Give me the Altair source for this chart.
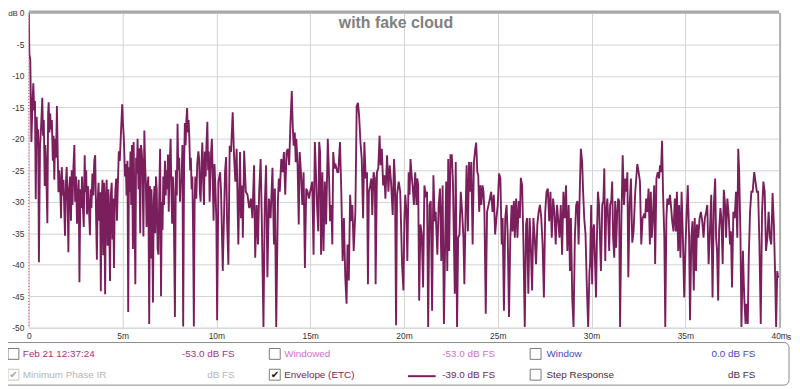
import altair as alt
import pandas as pd

# ---------------- data (time in ms, level in dB) ----------------
t_a = [0.00,0.03,0.08,0.14,0.19,0.24,0.29,0.33,0.37,0.42,0.47,0.50,0.54,0.60,0.65,0.72,0.76,0.80,0.85,0.88,0.92,0.99,
       1.03,1.06,1.10,1.14,1.18,1.23,1.28,1.32,1.36,1.40,1.45,1.50,1.54,1.58,1.62,1.67,1.72,1.76,1.80,1.85,1.89,1.93,1.98,
       2.02,2.07,2.11,2.15,2.20,2.25,2.29,2.33,2.38,2.43,2.47,2.52,2.57,2.62,2.66,2.70,2.75,2.79,2.84,2.88,2.93,2.98,
       3.02,3.06,3.10,3.15,3.20,3.26,3.30,3.34,3.39,3.44,3.49,3.54,3.58,3.63,3.67,3.72,3.76,3.80,3.84,3.88,3.93,3.97,
       4.01,4.07,4.11,4.15,4.20,4.24,4.28,4.33,4.37,4.42,4.46,4.50,4.54,4.58,4.62,4.66,4.70,4.75,4.80,4.85,4.90,4.98,
       5.02,5.06,5.10,5.13,5.17,5.21,5.26,5.30,5.34,5.38,5.42,5.46,5.50,5.55,5.59,5.63,5.68,5.72,5.76,5.80,5.85,5.89,5.94,5.98,
       6.02,6.06,6.11,6.16,6.20,6.24,6.28,6.32,6.37,6.42,6.46,6.50,6.54,6.58,6.62,6.66,6.70,6.74,6.78,6.82,6.87,6.91,6.95,7.00,
       7.05,7.09,7.13,7.17,7.21,7.26,7.30,7.34,7.38,7.42,7.46,7.50,7.56,7.60,7.64,7.68,7.72,7.79,7.84,7.89,7.93,7.97,
       8.02,8.06,8.10,8.14,8.19,8.23,8.28,8.32,8.36,8.40,8.44,8.48,8.52,8.56,8.60,8.64,8.68,8.72,8.76,8.80,8.84,8.88,8.93,8.98,
       9.04,9.08,9.12,9.16,9.21,9.25,9.30,9.34,9.38,9.43,9.47,9.52,9.56,9.60,9.64,9.68,9.72,9.76,9.80,9.85,9.90,9.95,10.00]
db_a = [0.0,-6.5,-7.5,-20.5,-15,-11.2,-15.5,-14,-29.6,-16.5,-21,-18.5,-39.6,-21,-18.5,-13.5,-19.5,-17,-27.5,-21,-23.5,-33.4,
        -16,-14.2,-19,-16,-18.5,-17,-23.5,-19.5,-26.5,-20,-23,-14.8,-22,-28.5,-25,-27,-32.6,-24.5,-29,-26.5,-31,-35.4,-27,
        -24.5,-30,-38,-28,-26,-33,-25,-30.5,-24.5,-21,-30,-26,-33.5,-29,-26.5,-42.8,-28,-31,-26,-30.5,-34,-22.6,
        -28.5,-25,-32,-27.5,-30.5,-35.3,-28,-31,-25.5,-29,-23.5,-22.6,-31,-39.2,-30,-27,-33,-28.5,-44.2,-30,-26.5,-38.5,
        -27,-44.7,-29,-26.5,-37,-28,-32,-42.6,-29,-27,-36,-29.5,-40.5,-31,-28,-26.3,-33,-27,-22,-23.5,-20,-14.5,
        -17.5,-19.5,-23,-26,-24,-29,-23.5,-47.5,-24.5,-28.5,-22,-30.5,-21,-37.5,-20.5,-30,-43.1,-23,-25.5,-20,-28,-21.5,-35,-21,
        -22,-24,-35.5,-18.7,-24,-27,-34,-28,-26,-49.4,-27.5,-39,-28,-34,-46,-30,-27.5,-35,-26,-28,-37.5,-38.4,-30,-21.6,
        -45,-30,-34.5,-26,-30.5,-23.5,-29,-25,-28,-22.5,-31.6,-25,-20,-27.5,-33.5,-26,-28.5,-48.3,-25,-29,-17.6,-25,
        -23,-30,-26.5,-27,-21,-49.8,-24,-17.5,-21,-17,-15.1,-19,-17,-20,-25,-23,-28,-26,-35,-49.8,-30,-26,-29.5,-24,
        -22,-23.2,-28.5,-30,-24,-20.6,-27,-30.5,-22,-26,-21,-17.3,-25,-22,-30,-26,-22,-20,-25,-33,-24,-28,-33]

t_b = [10.04,10.11,10.20,10.25,10.34,10.46,10.52,10.57,10.64,10.71,10.78,10.87,10.94,11.01,11.08,11.17,11.26,11.31,11.38,11.41,
       11.48,11.57,11.66,11.75,11.84,11.92,12.01,12.07,12.15,12.22,12.28,12.36,12.42,12.51,12.58,12.65,12.72,12.80,12.89,12.99,
       13.07,13.12,13.19,13.28,13.33,13.38,13.46,13.53,13.60,13.67,13.74,13.81,13.88,13.95,14.02,14.07,14.12,14.18,14.23,14.26,
       14.33,14.39,14.44,14.51,14.58,14.65,14.72,14.79,14.86,14.93,15.00,15.11,15.18,15.25,15.32,15.35,15.43,15.48,15.53,15.58,
       15.65,15.71,15.78,15.85,15.94,16.01,16.06,16.13,16.18,16.23,16.29,16.36,16.45,16.50,16.59,16.66,16.73,16.80,16.87,16.94,
       16.99,17.06,17.13,17.20,17.25,17.32,17.41,17.48,17.55,17.61,17.68,17.75,17.82,17.89,17.96,18.03,18.08,18.13,18.20,18.26,
       18.31,18.38,18.45,18.49,18.56,18.63,18.70,18.75,18.82,18.89,18.96,19.01,19.10,19.17,19.24,19.31,19.40,19.47,19.52,19.58,
       19.63,19.72,19.80]
db_b = [-48.8,-26.8,-25.3,-28.4,-41.0,-25.3,-22.9,-33.1,-40.0,-21.1,-22.1,-15.8,-22.6,-26.8,-21.6,-36.8,-22.1,-32.6,-27.4,-35.7,
        -21.9,-28.4,-28.9,-31.0,-29.5,-32.6,-24.2,-38.9,-30.5,-36.8,-28.4,-23.2,-32.6,-49.9,-30.5,-24.2,-42.0,-29.5,-32.6,-24.6,
        -36.8,-27.9,-49.9,-29.9,-26.3,-28.4,-23.2,-25.3,-22.1,-28.9,-22.1,-21.6,-24.2,-17.4,-12.4,-17.9,-21.1,-19.0,-23.7,-20.0,
        -24.2,-33.6,-22.1,-25.3,-30.5,-25.3,-40.5,-27.9,-28.4,-29.5,-28.4,-26.8,-38.4,-20.5,-26.3,-29.5,-34.7,-20.5,-22.1,-38.4,
        -25.3,-37.8,-26.8,-33.6,-20.0,-26.3,-33.1,-30.5,-36.8,-22.1,-24.7,-24.2,-25.3,-25.3,-20.5,-28.4,-39.4,-32.6,-42.0,-46.2,
        -36.8,-42.5,-28.9,-33.1,-30.5,-37.8,-31.6,-14.8,-14.3,-16.4,-20.5,-23.2,-32.6,-20.5,-26.3,-25.3,-43.1,-28.4,-27.4,-26.3,
        -32.1,-25.3,-26.3,-43.1,-25.3,-24.7,-19.5,-24.2,-21.6,-27.4,-25.8,-29.5,-22.6,-28.4,-24.2,-26.8,-32.1,-23.2,-26.3,-49.6,
        -28.9,-26.8,-28.4]

t_c = [19.90,19.97,20.02,20.07,20.13,20.18,20.25,20.30,20.35,20.41,20.46,20.53,20.60,20.67,20.71,20.76,20.81,20.88,20.95,21.02,
       21.09,21.16,21.23,21.29,21.36,21.43,21.50,21.57,21.64,21.69,21.78,21.85,21.92,21.99,22.06,22.13,22.20,22.25,22.31,22.36,
       22.41,22.48,22.55,22.61,22.66,22.71,22.76,22.83,22.89,22.96,23.03,23.10,23.17,23.22,23.29,23.34,23.41,23.47,23.54,23.59,
       23.66,23.73,23.80,23.85,23.91,23.96,24.01,24.07,24.12,24.19,24.24,24.29,24.36,24.43,24.51,24.58,24.65,24.72,24.79,24.86,
       24.93,25.00,25.07,25.14,25.21,25.26,25.33,25.40,25.47,25.53,25.60,25.67,25.74,25.79,25.86,25.91,25.98,26.05,26.12,26.18,
       26.23,26.30,26.37,26.44,26.51,26.56,26.63,26.70,26.76,26.83,26.90,26.97,27.04,27.11,27.18,27.25,27.32,27.39,27.46,27.53,
       27.60,27.67,27.74,27.81,27.88,27.95,28.02,28.09,28.16,28.23,28.29,28.36,28.43,28.50,28.57,28.64,28.71,28.78,28.85,28.90,
       28.97,29.04,29.11,29.18,29.25,29.31,29.38,29.43,29.50,29.55,29.61,29.68,29.75,29.82,29.89]
db_c = [-40.0,-44.1,-33.1,-28.9,-31.6,-39.4,-25.3,-28.9,-23.2,-25.8,-27.4,-30.5,-25.3,-30.5,-26.3,-27.4,-45.7,-33.6,-35.2,-43.6,
        -27.4,-28.9,-28.4,-49.9,-30.5,-29.9,-47.3,-25.8,-33.1,-31.6,-38.4,-30.5,-27.9,-39.4,-27.4,-49.4,-35.7,-26.8,-41.0,-23.2,
        -37.8,-22.6,-22.6,-26.8,-35.7,-44.6,-23.7,-49.9,-35.7,-35.2,-28.4,-31.6,-35.7,-43.1,-31.0,-24.2,-34.7,-23.7,-28.4,-23.7,
        -36.8,-23.7,-21.6,-20.6,-25.3,-25.8,-31.6,-27.4,-30.5,-27.4,-28.4,-31.6,-47.8,-31.6,-30.5,-29.5,-28.4,-31.6,-28.9,-35.2,
        -32.6,-30.5,-25.5,-26.3,-36.8,-32.6,-47.3,-32.6,-30.5,-35.2,-48.3,-35.7,-30.5,-34.7,-29.9,-35.7,-29.5,-35.7,-29.9,-32.6,
        -26.2,-27.4,-36.8,-49.9,-33.6,-32.6,-44.6,-32.6,-36.8,-44.1,-32.6,-35.7,-39.9,-33.6,-31.6,-30.5,-32.6,-36.8,-45.2,-31.6,
        -28.4,-27.9,-33.1,-28.4,-35.7,-29.5,-31.6,-36.8,-30.5,-33.1,-35.7,-30.5,-38.4,-28.4,-32.6,-27.4,-37.8,-30.5,-41.0,-32.6,
        -45.2,-49.9,-35.7,-30.5,-29.9,-36.8,-27.4,-21.6,-23.7,-28.4,-32.6,-35.2,-43.6,-49.9,-41.0]

t_d = [29.92,29.98,30.03,30.08,30.13,30.19,30.24,30.29,30.34,30.40,30.45,30.50,30.57,30.63,30.68,30.73,30.78,30.84,30.89,30.94,
       30.99,31.05,31.10,31.15,31.21,31.26,31.31,31.37,31.42,31.47,31.52,31.59,31.66,31.73,31.80,31.86,31.91,31.96,32.03,32.10,
       32.17,32.24,32.33,32.44,32.51,32.58,32.65,32.72,32.79,32.86,32.91,32.97,33.04,33.11,33.16,33.21,33.27,33.34,33.39,33.46,
       33.53,33.60,33.65,33.70,33.76,33.81,33.88,33.93,33.99,34.04,34.11,34.18,34.23,34.30,34.37,34.44,34.50,34.55,34.62,34.67,
       34.74,34.80,34.87,34.94,35.01,35.06,35.13,35.20,35.25,35.32,35.38,35.45,35.50,35.57,35.62,35.69,35.76,35.83,35.90,35.97,
       36.04,36.11,36.17,36.24,36.31,36.38,36.45,36.52,36.59,36.64,36.69,36.75,36.80,36.87,36.92,36.99,37.05,37.12,37.17,37.24,
       37.31,37.38,37.43,37.49,37.56,37.63,37.70,37.77,37.82,37.87,37.94,37.99,38.07,38.14,38.21,38.26,38.33,38.38,38.45,38.52,
       38.59,38.67,38.74,38.81,38.88,38.95,39.02,39.09,39.16,39.23,39.30,39.37,39.44,39.51,39.58,39.65,39.72,39.79,39.84,39.90,
       39.95]
db_d = [-40.0,-30.5,-43.1,-34.7,-33.6,-39.9,-45.2,-35.2,-28.4,-30.5,-35.7,-41.0,-30.5,-29.9,-24.7,-39.4,-31.6,-29.5,-33.1,-37.8,
        -30.5,-29.9,-26.8,-35.7,-38.9,-29.9,-37.3,-31.6,-29.5,-29.9,-49.9,-33.1,-22.6,-30.5,-26.3,-28.4,-25.3,-42.0,-30.5,-26.3,
        -36.5,-34.7,-28.4,-24.0,-25.3,-26.8,-36.8,-32.6,-32.1,-32.6,-29.5,-31.6,-27.9,-36.8,-28.4,-35.7,-32.6,-27.4,-39.9,-26.3,
        -25.3,-26.3,-24.2,-25.3,-20.3,-28.4,-35.7,-49.9,-32.6,-29.5,-30.5,-28.9,-30.5,-33.1,-34.7,-29.5,-34.7,-28.4,-37.8,-30.5,
        -38.9,-28.4,-35.7,-45.2,-36.8,-32.6,-27.4,-35.7,-48.8,-35.7,-33.1,-44.1,-32.6,-41.0,-33.6,-35.7,-32.6,-31.6,-33.1,-35.7,
        -32.6,-31.6,-30.5,-39.9,-34.7,-28.9,-45.2,-30.5,-26.3,-35.7,-37.8,-45.7,-34.7,-31.0,-32.6,-39.9,-28.1,-30.5,-35.7,-29.5,
        -32.1,-36.8,-34.7,-43.6,-31.6,-32.6,-28.4,-35.7,-21.6,-25.3,-35.7,-49.9,-37.8,-45.2,-49.4,-46.2,-49.4,-38.9,-31.6,-28.4,
        -28.4,-25.3,-26.8,-28.4,-28.4,-36.8,-49.4,-31.6,-26.8,-28.4,-37.8,-35.7,-31.6,-35.7,-36.8,-28.6,-33.6,-42.0,-49.9,-41.0,
        -42.1]

x_ticks = [0, 5, 10, 15, 20, 25, 30, 35, 40]
y_ticks = [-50, -45, -40, -35, -30, -25, -20, -15, -10, -5, 0]

title_text = "with fake cloud"
legend_names = ["Feb 21 12:37:24", "Windowed", "Window",
                "Minimum Phase IR", "Envelope (ETC)", "Step Response"]
legend_values = ["-53.0 dB FS", "-53.0 dB FS", "0.0 dB FS",
                 "dB FS", "-39.0 dB FS", "dB FS"]
legend_checked = [False, False, False, True, True, False]
legend_colors = ["#a8307e", "#d86ccf", "#4646b8",
                 "#b4b4b4", "#74245a", "#4a2a3c"]

# ---------------- chart ----------------
FONT = "Liberation Sans"
TRACE = "#7a1f5c"
W, H = 758, 318

df = pd.DataFrame({"t": t_a + t_b + t_c + t_d, "db": db_a + db_b + db_c + db_d})

x_scale = alt.Scale(domain=[0, 40], nice=False, zero=False)
y_scale = alt.Scale(domain=[-50, 0], nice=False, zero=False)

x_axis = alt.Axis(values=x_ticks, title=None, grid=True, gridColor="#d2d2d2", gridWidth=1,
                  domain=False, ticks=False, labelFont=FONT, labelFontSize=8.5,
                  labelColor="#333333", labelPadding=4, labelFlush=False, labelOverlap=False,
                  labelExpr="datum.value == 0 ? '0' : datum.value + 'm'")
y_axis = alt.Axis(values=y_ticks, title=None, grid=True, gridColor="#d2d2d2", gridWidth=1,
                  domain=False, ticks=False, labelFont=FONT, labelFontSize=8.5,
                  labelColor="#333333", labelPadding=5, labelFlush=False, labelOverlap=False,
                  labelBound=False,
                  labelExpr="datum.value < 0 ? '-' + abs(datum.value) : '0'")

layers = []

# legend panel frame (drawn first, beneath everything)
layers.append(
    alt.Chart(pd.DataFrame({"k": [0]})).mark_rect(fill="white", stroke="#8c8c8c", strokeWidth=1,
                                                  cornerRadius=5)
    .encode(x=alt.value(-40), x2=alt.value(768), y=alt.value(333), y2=alt.value(376))
)

line = alt.Chart(df).mark_line(color=TRACE, strokeWidth=1.9, clip=True).encode(
    x=alt.X("t:Q", scale=x_scale, axis=x_axis),
    y=alt.Y("db:Q", scale=y_scale, axis=y_axis),
)
layers.append(line)

# dotted marker at t = 0
layers.append(
    alt.Chart(pd.DataFrame({"t": [0]})).mark_rule(color="#e0607a", strokeDash=[1, 2], strokeWidth=1.2)
    .encode(x=alt.X("t:Q", scale=x_scale))
)

# frame accents (top bar, right edge)
layers.append(
    alt.Chart(pd.DataFrame({"k": [0]})).mark_rule(color="#a8a8a8", strokeWidth=3)
    .encode(x=alt.value(0), x2=alt.value(W), y=alt.value(-1))
)
layers.append(
    alt.Chart(pd.DataFrame({"k": [0]})).mark_rule(color="#b0b0b0", strokeWidth=2)
    .encode(x=alt.value(W + 1), y=alt.value(0), y2=alt.value(H))
)


def txt(s, x, y, color, size=10, align="left", weight="normal", baseline="middle", font=FONT):
    return alt.Chart(pd.DataFrame({"s": [s]})).mark_text(
        align=align, baseline=baseline, fontSize=size, color=color,
        fontWeight=weight, font=font
    ).encode(text="s:N", x=alt.value(x), y=alt.value(y))


# title and unit labels
layers.append(txt(title_text, 371, 15, "#808080", size=16, align="center", weight="bold",
                  baseline="alphabetic"))
layers.append(txt("dB", -11, -3, "#333333", size=8, align="right", baseline="top"))
layers.append(txt("s", 766, 327.5, "#333333", size=8.5, align="left"))

# legend entries
box_cx = [-15.5, 248.5, 512]
name_x = [-6, 258, 523]
value_x = [208, 471, 734]
row_y = [345, 366]
for i, name in enumerate(legend_names):
    col, row = i % 3, i // 3
    cy = row_y[row]
    disabled = (i == 3)
    box_stroke = "#c4c4c4" if disabled else "#7a7a7a"
    layers.append(
        alt.Chart(pd.DataFrame({"k": [0]})).mark_rect(fill="white", stroke=box_stroke, strokeWidth=1)
        .encode(x=alt.value(box_cx[col] - 5.5), x2=alt.value(box_cx[col] + 5.5),
                y=alt.value(cy - 6), y2=alt.value(cy + 5))
    )
    if legend_checked[i]:
        layers.append(txt("\u2714", box_cx[col], cy, "#a8a8a8" if disabled else "#111111",
                          size=10, align="center", font="DejaVu Sans"))
    layers.append(txt(name, name_x[col], cy, legend_colors[i]))
    layers.append(txt(legend_values[i], value_x[col], cy, legend_colors[i], align="right"))

# envelope legend line sample
layers.append(
    alt.Chart(pd.DataFrame({"k": [0]})).mark_rule(color=TRACE, strokeWidth=2)
    .encode(x=alt.value(383), x2=alt.value(411), y=alt.value(367))
)

chart = alt.layer(*layers).properties(
    width=W, height=H,
    autosize=alt.AutoSizeParams(type="none"),
    padding={"left": 21, "top": 3, "right": 13, "bottom": 60},
).configure_view(stroke="#a0a0a0", strokeWidth=1).configure(background="white")

chart.save("out.html", embed_options={"renderer": "svg", "actions": False})
